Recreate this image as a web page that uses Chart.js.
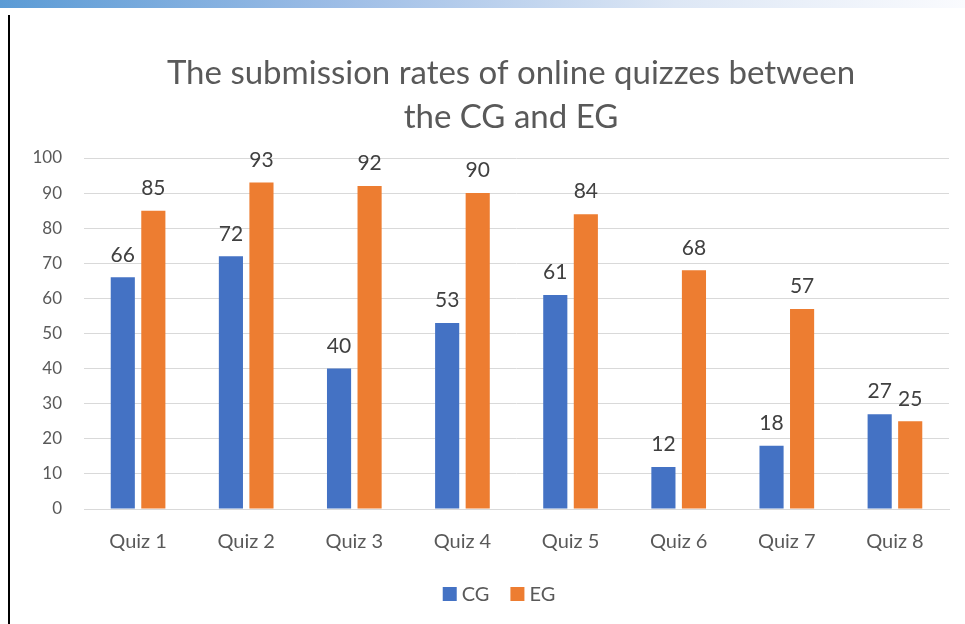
<!DOCTYPE html>
<html>
<head>
<meta charset="utf-8">
<script src="https://cdn.jsdelivr.net/npm/chart.js@4/dist/chart.umd.min.js"></script>
<style>
  html, body { margin: 0; padding: 0; background: #fff; }
  #wrap { position: relative; width: 965px; height: 624px; overflow: hidden; }
  #topbar { position: absolute; left: 0; top: 0; width: 965px; height: 8px;
    background: linear-gradient(to right, #5b9bd5 0%, #9dbde6 35%, #dde7f5 70%, #fafbfe 100%); }
  #vline { position: absolute; left: 8px; top: 15px; width: 2px; height: 609px; background: #000; }
  #c { position: absolute; left: 0; top: 0; }
</style>
</head>
<body>
<div id="wrap">
  <div id="topbar"></div>
  <div id="vline"></div>
  <canvas id="c" width="965" height="624"></canvas>
</div>
<script>
const categories = ["Quiz 1", "Quiz 2", "Quiz 3", "Quiz 4", "Quiz 5", "Quiz 6", "Quiz 7", "Quiz 8"];
const cgValues = [66, 72, 40, 53, 61, 12, 18, 27];
const egValues = [85, 93, 92, 90, 84, 68, 57, 25];
const seriesNames = ["CG", "EG"];
const titleLines = ["The submission rates of online quizzes between", "the CG and EG"];
const FONT = "Lato, 'Open Sans', sans-serif";

const titleDraw = {
  id: 'titleDraw',
  afterDraw(chart) {
    const ctx = chart.ctx;
    ctx.save();
    ctx.font = "33px " + FONT;
    ctx.fillStyle = "#595959";
    ctx.textAlign = "center";
    ctx.textBaseline = "middle";
    ctx.fillText(titleLines[0], 511, 73);
    ctx.fillText(titleLines[1], 511, 117);
    ctx.restore();
  }
};

const legendDraw = {
  id: 'legendDraw',
  afterDraw(chart) {
    const ctx = chart.ctx;
    ctx.save();
    ctx.font = "20px " + FONT;
    ctx.textBaseline = "middle";
    ctx.textAlign = "left";
    const cy = 594, box = 14, gapText = 5, gapItem = 21;
    const widths = chart.data.datasets.map(ds => box + gapText + ctx.measureText(ds.label).width);
    const total = widths.reduce((a, b) => a + b, 0) + gapItem * (widths.length - 1);
    let x = 499 - total / 2;
    chart.data.datasets.forEach((ds, i) => {
      ctx.fillStyle = ds.backgroundColor;
      ctx.fillRect(x, cy - box / 2, box, box);
      ctx.fillStyle = "#595959";
      ctx.fillText(ds.label, x + box + gapText, cy + 1);
      x += widths[i] + gapItem;
    });
    ctx.restore();
  }
};

const dataLabels = {
  id: 'dataLabels',
  afterDatasetsDraw(chart) {
    const ctx = chart.ctx;
    ctx.save();
    ctx.font = "21px " + FONT;
    ctx.fillStyle = "#404040";
    ctx.textAlign = "center";
    ctx.textBaseline = "bottom";
    chart.data.datasets.forEach((ds, i) => {
      const meta = chart.getDatasetMeta(i);
      meta.data.forEach((bar, j) => {
        ctx.fillText(String(ds.data[j]), bar.x, bar.y - 12);
      });
    });
    ctx.restore();
  }
};

new Chart(document.getElementById('c'), {
  type: 'bar',
  data: {
    labels: categories,
    datasets: [
      { label: seriesNames[0], data: cgValues, backgroundColor: '#4472c4', categoryPercentage: 0.565, barPercentage: 0.79 },
      { label: seriesNames[1], data: egValues, backgroundColor: '#ed7d31', categoryPercentage: 0.565, barPercentage: 0.79 }
    ]
  },
  options: {
    responsive: false,
    animation: false,
    devicePixelRatio: 1,
    layout: { padding: { left: 11, right: 16, top: 158, bottom: 57 } },
    plugins: {
      title: { display: false },
      legend: { display: false },
      tooltip: { enabled: false }
    },
    scales: {
      x: {
        grid: { display: false },
        border: { color: '#d9d9d9' },
        ticks: { color: '#595959', font: { family: FONT, size: 20 }, padding: 13 }
      },
      y: {
        min: 0, max: 100,
        afterFit(scale) { scale.width = 73; },
        ticks: { stepSize: 10, color: '#595959', font: { family: FONT, size: 17 }, padding: 22 },
        grid: { color: '#d9d9d9', drawTicks: false },
        border: { display: false }
      }
    }
  },
  plugins: [dataLabels, titleDraw, legendDraw]
});
</script>
</body>
</html>
